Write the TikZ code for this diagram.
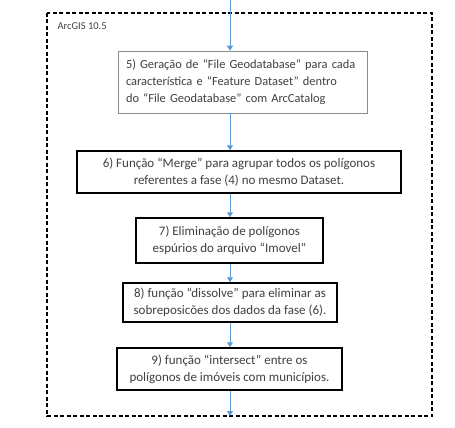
\documentclass[tikz,border=0pt]{standalone}
\usepackage{fontspec}
\setmainfont{Carlito}
\usetikzlibrary{arrows.meta}
\definecolor{seta}{HTML}{5B9BD5}
\definecolor{texto}{HTML}{404040}
\tikzset{
  etapa/.style={draw=black,line width=1.5pt,fill=white,text=texto,align=center,
    font=\fontsize{13}{17}\selectfont,inner sep=0pt},
  fluxo/.style={seta,line width=0.8pt,-{Triangle[width=6pt,length=5pt]}}
}
\begin{document}
\begin{tikzpicture}[x=1pt,y=-1pt]
  \useasboundingbox (0,0) rectangle (455,428);
  % moldura do ArcGIS
  \draw[line width=1.1pt,dash pattern=on 4pt off 2.5pt] (47,13) rectangle (432,416);
  \node[anchor=west,text=texto,font=\fontsize{10.5}{12}\selectfont] (rotulo) at (54,26) {ArcGIS 10.5};
  \coordinate (topo) at (230,0);
  \coordinate (fim) at (230,416);
  % etapas
  \node[etapa,draw=black!45,line width=0.6pt,align=left,font=\fontsize{12.4}{17}\selectfont,
    text width=233pt,inner xsep=8pt,minimum height=62pt] (e5) at (242.5,82)
    {5) Geração de “File Geodatabase” para cada\\característica e “Feature Dataset” dentro\\do “File Geodatabase” com ArcCatalog};
  \node[etapa,minimum width=324pt,minimum height=42pt] (e6) at (239,172)
    {6) Função “Merge” para agrupar todos os polígonos\\referentes a fase (4) no mesmo Dataset.};
  \node[etapa,minimum width=187pt,minimum height=45pt] (e7) at (229.5,240.5)
    {7) Eliminação de polígonos\\espúrios do arquivo “Imovel”};
  \node[etapa,minimum width=214pt,minimum height=39pt] (e8) at (230,302.5)
    {8) função “dissolve” para eliminar as\\sobreposicões dos dados da fase (6).};
  \node[etapa,minimum width=225pt,minimum height=42pt] (e9) at (229.5,369)
    {9) função “intersect” entre os\\polígonos de imóveis com municípios.};
  % setas
  \draw[fluxo] (topo) -- (e5.north -| topo);
  \draw[fluxo] (e5.south -| topo) -- (e6.north -| topo);
  \draw[fluxo] (e6.south -| topo) -- (e7.north -| topo);
  \draw[fluxo] (e7.south -| topo) -- (e8.north -| topo);
  \draw[fluxo] (e8.south -| topo) -- (e9.north -| topo);
  \draw[fluxo] (e9.south -| topo) -- (fim);
\end{tikzpicture}
\end{document}
